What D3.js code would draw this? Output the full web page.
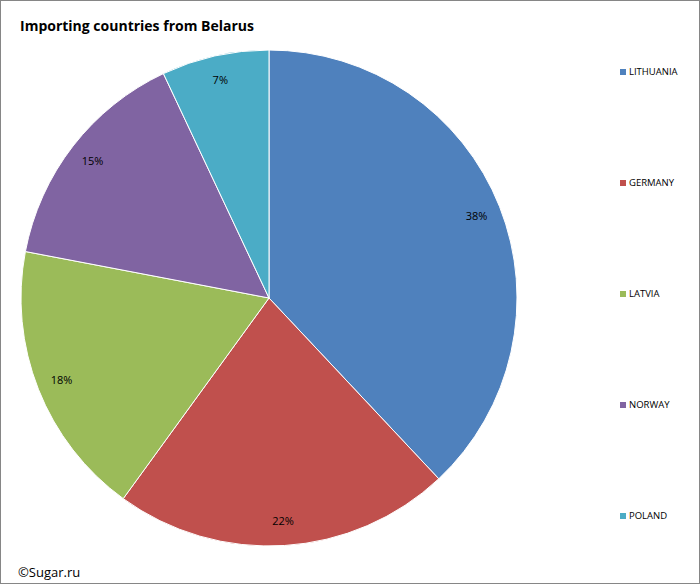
<!DOCTYPE html>
<html><head><meta charset="utf-8">
<script src="https://cdn.jsdelivr.net/npm/d3@7"></script>
<style>body{margin:0;background:#fff}</style>
</head><body>
<svg id="c" width="700" height="584"></svg>
<script>
const categories = ["LITHUANIA","GERMANY","LATVIA","NORWAY","POLAND"];
const values = [38,22,18,15,7];
const colors = ["#4F81BD","#C0504D","#9BBB59","#8064A2","#4BACC6"];

const svg = d3.select("#c");
svg.append("rect").attr("x",0.5).attr("y",0.5).attr("width",699).attr("height",583)
  .attr("fill","#fff").attr("stroke","#868686");
svg.append("text").attr("x",20).attr("y",31).attr("font-family","Open Sans, Liberation Sans, sans-serif")
  .attr("font-size",14).attr("font-weight","bold").text("Importing countries from Belarus");

const cx=269, cy=298, R=248;
const pie = d3.pie().sort(null).value(d=>d)(values);
const arc = d3.arc().innerRadius(0).outerRadius(R);
const g = svg.append("g").attr("transform",`translate(${cx},${cy})`);
g.selectAll("path").data(pie).join("path").attr("d",arc)
  .attr("fill",(d,i)=>colors[i]).attr("stroke","#fff").attr("stroke-width",1);
const la = d3.arc().innerRadius(R*0.9).outerRadius(R*0.9);
g.selectAll("text").data(pie).join("text")
  .attr("transform",d=>`translate(${la.centroid(d)})`)
  .attr("text-anchor","middle").attr("dy","0.35em")
  .attr("font-family","Open Sans, Liberation Sans, sans-serif").attr("font-size",11).attr("fill","#000")
  .text(d=>d.data+"%");

const leg = svg.append("g");
categories.forEach((c,i)=>{
  const y = 72 + i*111;
  leg.append("rect").attr("x",620).attr("y",y-3).attr("width",6).attr("height",6).attr("fill",colors[i]);
  leg.append("text").attr("x",629).attr("y",y).attr("dy","0.35em")
    .attr("font-family","Open Sans, Liberation Sans, sans-serif").attr("font-size",9.5).text(c);
});
svg.append("text").attr("x",18).attr("y",577).attr("font-family","Open Sans, Liberation Sans, sans-serif")
  .attr("font-size",13).text("©Sugar.ru");
</script>
</body></html>
